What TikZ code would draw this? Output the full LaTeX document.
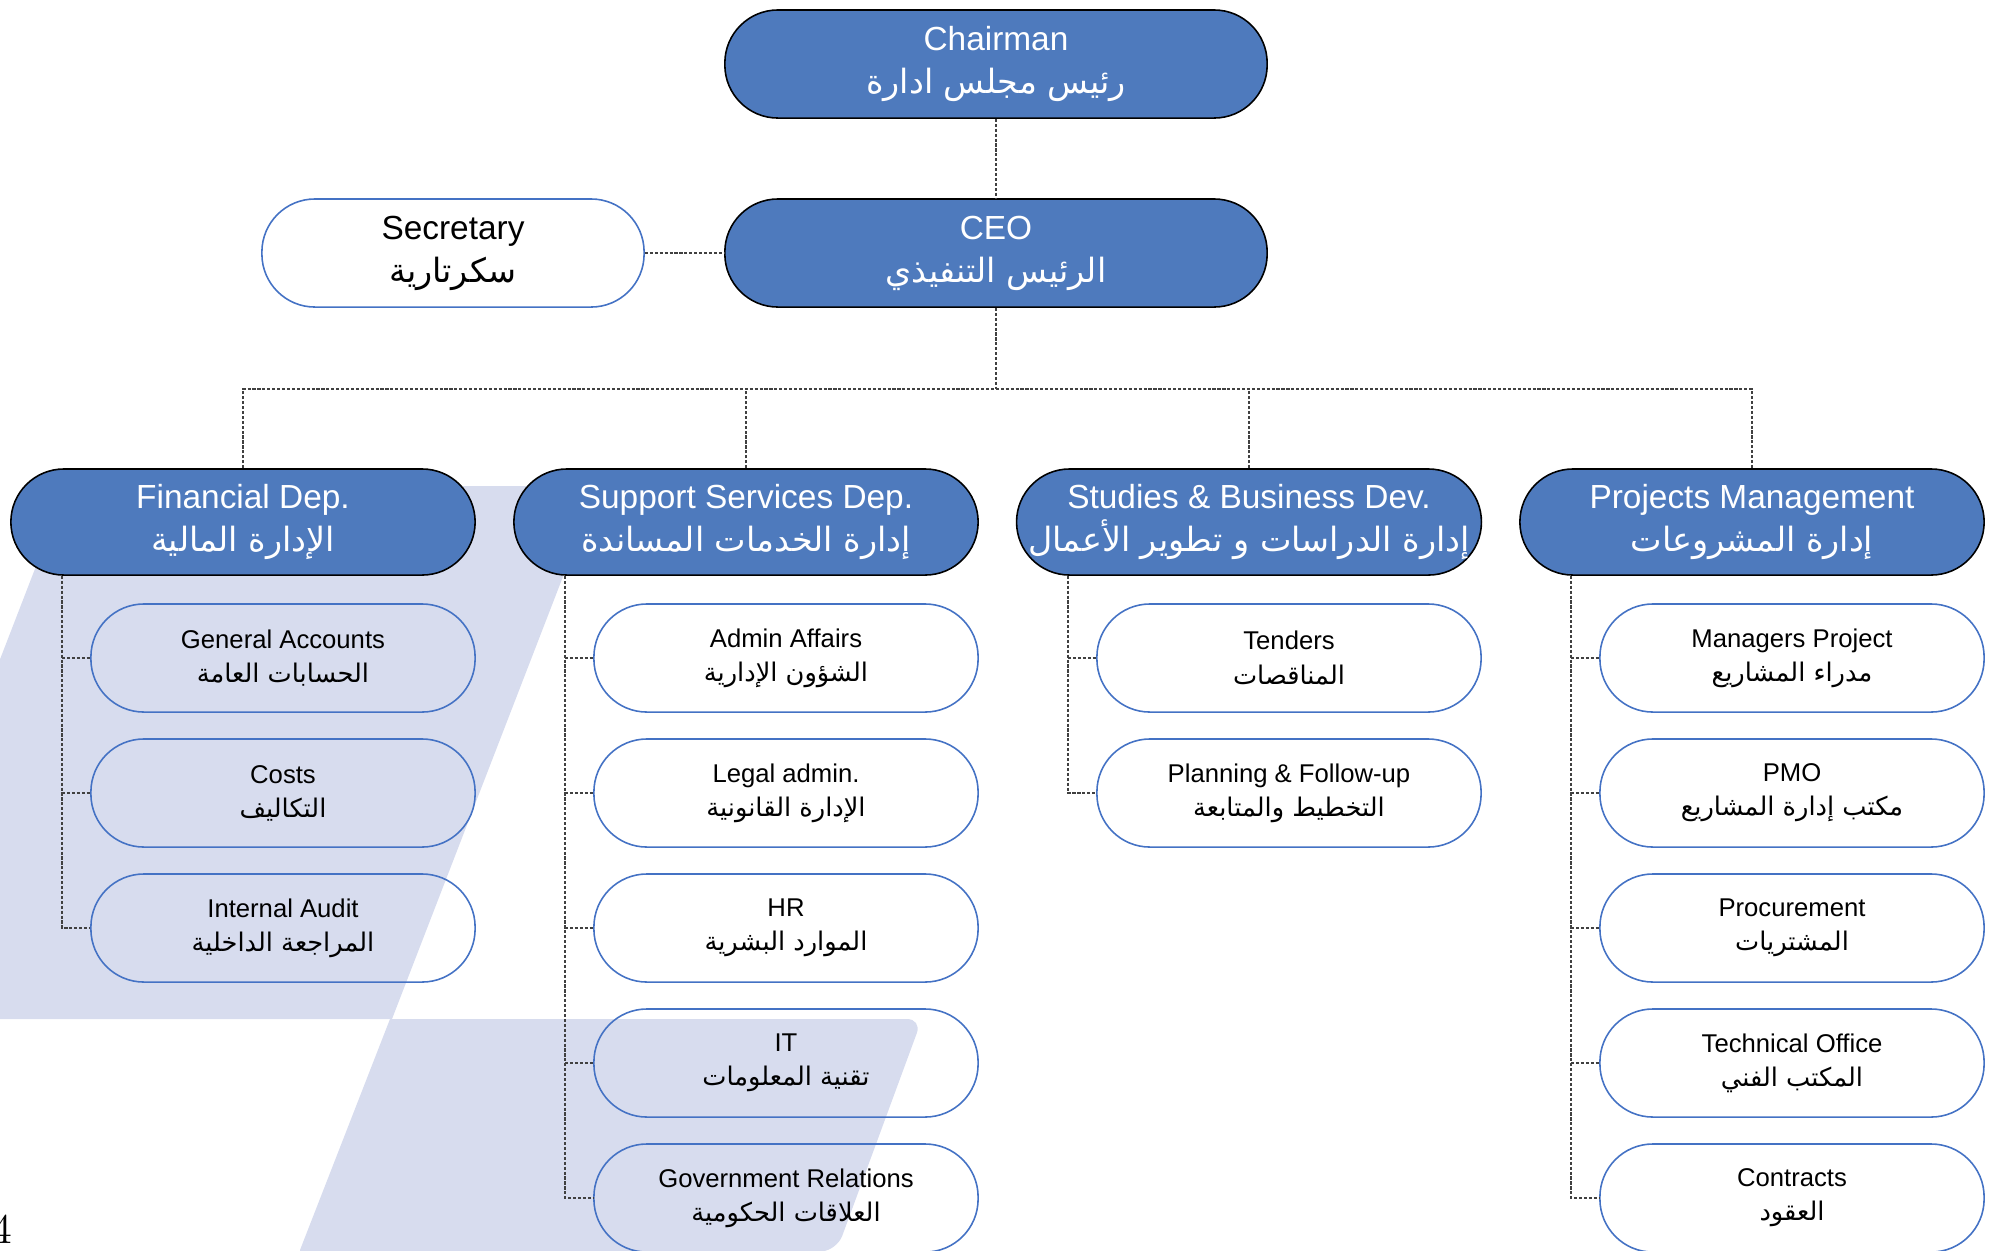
\documentclass[tikz,border=0pt]{standalone}
\usepackage{fontspec}
\usepackage{tikz}
\newfontfamily\sansfont{Liberation Sans}
\newfontfamily\arabicfont[Script=Arabic]{DejaVu Sans}
\TeXXeTstate=1
\definecolor{boxblue}{HTML}{4E7ABD}
\definecolor{lineblue}{HTML}{4472C4}
\definecolor{lavender}{HTML}{D7DCEE}
\newcommand{\twoline}[2]{#1\\{\arabicfont #2}}

\begin{document}
\begin{tikzpicture}
  [x=0.01cm,y=-0.01cm,
   topbox/.style={rectangle,rounded corners=0.53cm,draw=black,line width=0.45pt,fill=boxblue,text=white,
     minimum width=5.42cm,minimum height=1.08cm,align=center,font=\sansfont\fontsize{9.5}{12.2}\selectfont},
   deptbox/.style={topbox,minimum width=4.64cm,minimum height=1.06cm},
   secbox/.style={rectangle,rounded corners=0.53cm,draw=lineblue,line width=0.45pt,text=black,
     minimum width=3.82cm,minimum height=1.08cm,align=center,font=\sansfont\fontsize{9.5}{12.2}\selectfont},
   subbox/.style={secbox,minimum width=3.84cm,font=\sansfont\fontsize{7.3}{9.7}\selectfont},
   conn/.style={draw=black!75,line width=0.35pt,dash pattern=on 0.9pt off 0.5pt}]
  \useasboundingbox (0,0) rectangle (1991,1250);

  % background bands
  \begin{scope}
    \clip (0,0) rectangle (1991,1250);
    \fill [lavender] (67,486) -- (598,486) -- (392,1019) -- (-139,1019) -- cycle;
    \fill [lavender] (300,1250) -- (390,1019) [rounded corners=0.15cm] -- (922,1019) -- (837,1250) [sharp corners] -- (300,1300) -- cycle;
  \end{scope}

  % top
  \node [topbox] (chair) at (996,64) {\twoline{Chairman}{\beginR رئيس مجلس ادارة\endR}};
  \node [topbox] (ceo) at (996,253) {\twoline{CEO}{\beginR الرئيس التنفيذي\endR}};
  \node [secbox] (sec) at (453,253) {\twoline{Secretary}{\beginR سكرتارية\endR}};

  % departments
  \node [deptbox] (fin) at (243,522) {\twoline{Financial Dep.}{\beginR الإدارة المالية\endR}};
  \node [deptbox] (sup) at (746,522) {\twoline{Support Services Dep.}{\beginR إدارة الخدمات المساندة\endR}};
  \node [deptbox] (stu) at (1249,522) {\twoline{Studies \& Business Dev.}{\beginR إدارة الدراسات و تطوير الأعمال\endR}};
  \node [deptbox] (pro) at (1752,522) {\twoline{Projects Management}{\beginR إدارة المشروعات\endR}};

  % financial
  \node [subbox] (fin1) at (283,658) {\twoline{General Accounts}{\beginR الحسابات العامة\endR}};
  \node [subbox] (fin2) at (283,793) {\twoline{Costs}{\beginR التكاليف\endR}};
  \node [subbox] (fin3) at (283,928) {\twoline{Internal Audit}{\beginR المراجعة الداخلية\endR}};

  % support services
  \node [subbox] (sup1) at (786,658) {\twoline{Admin Affairs}{\beginR الشؤون الإدارية\endR}};
  \node [subbox] (sup2) at (786,793) {\twoline{Legal admin.}{\beginR الإدارة القانونية\endR}};
  \node [subbox] (sup3) at (786,928) {\twoline{HR}{\beginR الموارد البشرية\endR}};
  \node [subbox] (sup4) at (786,1063) {\twoline{IT}{\beginR تقنية المعلومات\endR}};
  \node [subbox] (sup5) at (786,1198) {\twoline{Government Relations}{\beginR العلاقات الحكومية\endR}};

  % studies
  \node [subbox] (stu1) at (1289,658) {\twoline{Tenders}{\beginR المناقصات\endR}};
  \node [subbox] (stu2) at (1289,793) {\twoline{Planning \& Follow-up}{\beginR التخطيط والمتابعة\endR}};

  % projects
  \node [subbox] (pro1) at (1792,658) {\twoline{Managers Project}{\beginR مدراء المشاريع\endR}};
  \node [subbox] (pro2) at (1792,793) {\twoline{PMO}{\beginR مكتب إدارة المشاريع\endR}};
  \node [subbox] (pro3) at (1792,928) {\twoline{Procurement}{\beginR المشتريات\endR}};
  \node [subbox] (pro4) at (1792,1063) {\twoline{Technical Office}{\beginR المكتب الفني\endR}};
  \node [subbox] (pro5) at (1792,1198) {\twoline{Contracts}{\beginR العقود\endR}};

  \node [anchor=base east,font=\fontsize{12}{14}\selectfont,inner sep=0pt] (page) at (13,1243) {4};

  % connectors
  \coordinate (bus) at (996,389);
  \draw [conn] (chair) -- (ceo);
  \draw [conn] (sec) -- (ceo);
  \draw [conn] (ceo.south) -- (bus);
  \draw [conn] (fin.north) |- (bus) -| (pro.north);
  \foreach \d in {sup,stu}
    \draw [conn] (\d.north) -- (\d.north |- bus);

  \foreach \d/\last in {fin/fin3,sup/sup5,stu/stu2,pro/pro5}
    \draw [conn] ([xshift=-0.28cm]\d1.west |- \d.south) |- (\last.west);
  \foreach \s in {fin1,fin2,sup1,sup2,sup3,sup4,stu1,pro1,pro2,pro3,pro4}
    \draw [conn] ([xshift=-0.28cm]\s.west) -- (\s.west);

\end{tikzpicture}
\end{document}
